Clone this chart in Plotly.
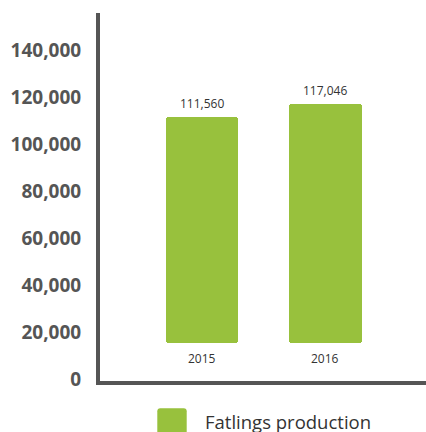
import plotly.graph_objects as go

# ---- data ----
years = ["2015", "2016"]
production = [111560, 117046]
series_name = "Fatlings production"
y_ticks = [0, 20000, 40000, 60000, 80000, 100000, 120000, 140000]
y_tick_labels = [f"{v:,}" for v in y_ticks]

# ---- style ----
BAR_COLOR = "#98c13d"
AXIS_COLOR = "#555555"
TEXT_COLOR = "#333333"
BAR_BASE = 15400  # bars float above the baseline, leaving room for category labels

W, H = 426, 432
L, R, T = 100, 0, 13
B = H - 381
PW, PH = W - L - R, H - T - B

fig = go.Figure()
fig.add_trace(go.Bar(
    x=years,
    y=[v - BAR_BASE for v in production],
    base=BAR_BASE,
    width=0.59,
    marker=dict(color=BAR_COLOR, line=dict(width=0), cornerradius=3),
    name=series_name,
    showlegend=False,
    hoverinfo="skip",
))

annotations = []
for i, (yr, v) in enumerate(zip(years, production)):
    annotations.append(dict(x=i, y=v, xref="x", yref="y", text=f"{v:,}",
                            showarrow=False, yanchor="middle", yshift=13,
                            font=dict(family="Open Sans", size=12, color=TEXT_COLOR)))
    annotations.append(dict(x=i, y=BAR_BASE, xref="x", yref="y", text=yr,
                            showarrow=False, yanchor="middle", yshift=-16,
                            font=dict(family="Open Sans", size=12, color=TEXT_COLOR)))

# custom legend (large rounded swatch + text), positions given in page pixels
def px_x(p):
    return (p - L) / PW

def px_y(p):
    return (H - B - p) / PH

sx0, sx1, sy0, sy1, r = 157.3, 186.7, 408.3, 437.3, 3
path = (
    f"M {px_x(sx0 + r)} {px_y(sy0)} L {px_x(sx1 - r)} {px_y(sy0)} "
    f"Q {px_x(sx1)} {px_y(sy0)} {px_x(sx1)} {px_y(sy0 + r)} "
    f"L {px_x(sx1)} {px_y(sy1 - r)} Q {px_x(sx1)} {px_y(sy1)} {px_x(sx1 - r)} {px_y(sy1)} "
    f"L {px_x(sx0 + r)} {px_y(sy1)} Q {px_x(sx0)} {px_y(sy1)} {px_x(sx0)} {px_y(sy1 - r)} "
    f"L {px_x(sx0)} {px_y(sy0 + r)} Q {px_x(sx0)} {px_y(sy0)} {px_x(sx0 + r)} {px_y(sy0)} Z"
)
shapes = [dict(type="path", xref="paper", yref="paper", path=path,
               fillcolor=BAR_COLOR, line=dict(width=0))]
annotations.append(dict(x=px_x(203), y=px_y(422), xref="paper", yref="paper",
                        text=series_name, showarrow=False, xanchor="left", yanchor="middle",
                        font=dict(family="Open Sans", size=18.5, color=TEXT_COLOR)))

fig.update_layout(
    width=W, height=H,
    margin=dict(l=L, r=R, t=T, b=B, pad=0),
    paper_bgcolor="white", plot_bgcolor="white",
    showlegend=False,
    bargap=0,
    annotations=annotations,
    shapes=shapes,
    xaxis=dict(
        type="category",
        range=[-0.827, 1.817],
        showticklabels=False,
        ticks="",
        showgrid=False,
        zeroline=False,
        showline=True, linecolor=AXIS_COLOR, linewidth=4,
        fixedrange=True,
    ),
    yaxis=dict(
        range=[-851, 155745],
        tickvals=y_ticks,
        ticktext=y_tick_labels,
        ticks="",
        ticklabelstandoff=11,
        tickfont=dict(family="Open Sans", size=19, color=AXIS_COLOR, weight="bold"),
        showgrid=False,
        zeroline=False,
        showline=True, linecolor=AXIS_COLOR, linewidth=4,
        fixedrange=True,
    ),
)

fig.write_html(
    "out.html",
    config={"displayModeBar": False},
    post_script="document.body.style.margin='0';document.body.style.overflow='hidden';",
)
